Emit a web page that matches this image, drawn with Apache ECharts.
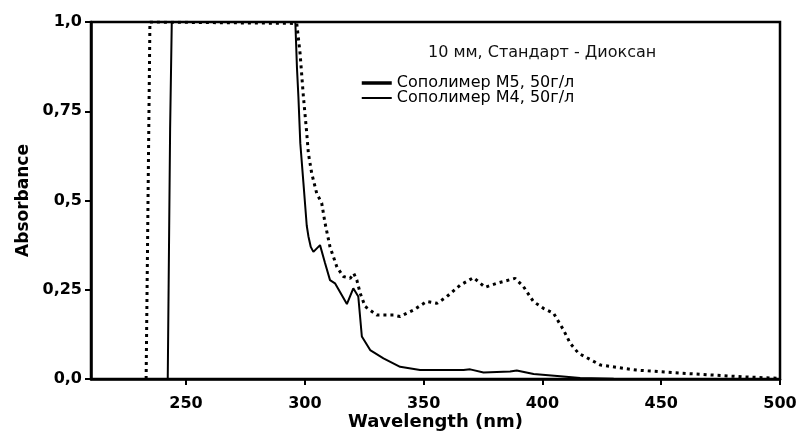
<!DOCTYPE html>
<html>
<head>
  <meta charset="utf-8">
  <title>Absorbance</title>
  <script src="https://cdn.jsdelivr.net/npm/echarts@6/dist/echarts.min.js"></script>
  <style>
    html, body { margin: 0; padding: 0; background: #fff; }
    #chart { width: 798px; height: 432px; }
  </style>
</head>
<body>
  <div id="chart"></div>
  <script>
    /* 坐标轴刻度 */
    const xTicks = [250, 300, 350, 400, 450, 500]
    const yTicks = [0, 0.25, 0.5, 0.75, 1.0]
    const yTickLabels = ['0,0', '0,25', '0,5', '0,75', '1,0']

    /* Сополимер М5 (пунктир) */
    const m5Wave = [233.2, 234.8, 296.6, 298.0, 299.4, 300.8, 301.5, 302.9, 305.0, 307.1,
      308.5, 310.6, 313.5, 316.2, 319.1, 320.6, 321.9, 323.3, 325.4, 330.3,
      337.3, 340.1, 345.7, 351.3, 355.6, 359.8, 365.4, 371.0, 375.9, 380.8,
      388.5, 392.0, 396.2, 400.4, 404.7, 408.9, 411.7, 415.2, 424.5, 439.5,
      454.5, 471.7, 484.5, 499.5]
    const m5Abs = [0, 1.0, 0.996, 0.912, 0.791, 0.689, 0.632, 0.576, 0.52, 0.493,
      0.437, 0.37, 0.314, 0.287, 0.282, 0.296, 0.277, 0.24, 0.203, 0.179,
      0.179, 0.175, 0.193, 0.217, 0.212, 0.231, 0.263, 0.284, 0.257, 0.268,
      0.282, 0.259, 0.217, 0.198, 0.184, 0.137, 0.1, 0.072, 0.039, 0.025,
      0.018, 0.011, 0.006, 0.002]

    /* Сополимер М4 (сплошная) */
    const m4Wave = [242.3, 243.3, 244.0, 296.0, 296.7, 297.3, 298.1, 299.4, 300.8, 301.5,
      302.5, 303.6, 306.4, 308.5, 310.6, 312.7, 317.7, 320.4, 322.5, 324.0,
      327.5, 333.1, 340.1, 348.5, 366.8, 369.6, 375.2, 386.4, 389.2, 396.3,
      407.5, 415.9, 430.0, 455.0, 500.0]
    const m4Abs = [0, 0.7, 1.0, 1.0, 0.87, 0.79, 0.66, 0.55, 0.43, 0.4,
      0.37, 0.356, 0.375, 0.325, 0.277, 0.268, 0.21, 0.254, 0.231, 0.119,
      0.081, 0.058, 0.034, 0.025, 0.025, 0.027, 0.018, 0.021, 0.024, 0.014,
      0.008, 0.003, 0.001, 0, 0]

    const seriesNames = ['Сополимер М5, 50г/л', 'Сополимер М4, 50г/л']

    const zip = (xs, ys) => xs.map((x, i) => [x, ys[i]])

    const chart = echarts.init(document.getElementById('chart'), null, { renderer: 'canvas' })
    chart.setOption({
      animation: false,
      backgroundColor: '#fff',
      /* 标题：测量条件 */
      title: {
        text: '10 мм, Стандарт - Диоксан',
        left: 423,
        top: 40,
        textStyle: {
          fontFamily: 'DejaVu Sans',
          fontSize: 16,
          fontWeight: 'normal',
          color: '#111'
        }
      },
      /* 图例：两条实线图标，不显示圆点 */
      legend: {
        orient: 'vertical',
        left: 355,
        top: 70,
        itemWidth: 30,
        itemHeight: 14,
        itemGap: -1,
        textStyle: {
          fontFamily: 'DejaVu Sans',
          fontSize: 16,
          color: '#000',
          lineHeight: 14
        },
        data: [
          { name: seriesNames[0], itemStyle: { opacity: 0 }, lineStyle: { type: 'solid', width: 3.5, color: '#000' } },
          { name: seriesNames[1], itemStyle: { opacity: 0 }, lineStyle: { type: 'solid', width: 2, color: '#000' } }
        ]
      },
      grid: {
        left: 91,
        right: 18,
        top: 22,
        bottom: 53,
        outerBoundsMode: 'none',
        show: true,
        borderColor: '#000',
        borderWidth: 2.5
      },
      xAxis: {
        type: 'value',
        min: 210,
        max: 500,
        name: 'Wavelength (nm)',
        nameLocation: 'middle',
        nameGap: 34,
        nameMoveOverlap: false,
        nameTextStyle: {
          fontFamily: 'DejaVu Sans',
          fontWeight: 'bold',
          fontSize: 18,
          color: '#000'
        },
        axisLine: { lineStyle: { color: '#000', width: 2.5 } },
        axisTick: { customValues: xTicks, length: 6, lineStyle: { color: '#000', width: 2 } },
        axisLabel: {
          customValues: xTicks,
          margin: 17,
          fontFamily: 'DejaVu Sans',
          fontWeight: 'bold',
          fontSize: 16,
          color: '#000'
        },
        splitLine: { show: false }
      },
      yAxis: {
        type: 'value',
        min: 0,
        max: 1,
        interval: 0.25,
        name: 'Absorbance',
        nameLocation: 'middle',
        nameGap: 59,
        nameMoveOverlap: false,
        nameTextStyle: {
          fontFamily: 'DejaVu Sans',
          fontWeight: 'bold',
          fontSize: 17,
          color: '#000'
        },
        axisLine: { show: true, lineStyle: { color: '#000', width: 2.5 } },
        axisTick: { show: true, length: 6, lineStyle: { color: '#000', width: 2 } },
        axisLabel: {
          margin: 9,
          fontFamily: 'DejaVu Sans',
          fontWeight: 'bold',
          fontSize: 16,
          color: '#000',
          formatter: v => yTickLabels[yTicks.indexOf(v)]
        },
        splitLine: { show: false }
      },
      series: [
        {
          name: seriesNames[0],
          type: 'line',
          symbol: 'none',
          color: '#000',
          lineStyle: { color: '#000', width: 3, type: [3, 4], cap: 'butt' },
          data: zip(m5Wave, m5Abs)
        },
        {
          name: seriesNames[1],
          type: 'line',
          symbol: 'none',
          color: '#000',
          lineStyle: { color: '#000', width: 2 },
          data: zip(m4Wave, m4Abs)
        }
      ]
    })
  </script>
</body>
</html>
